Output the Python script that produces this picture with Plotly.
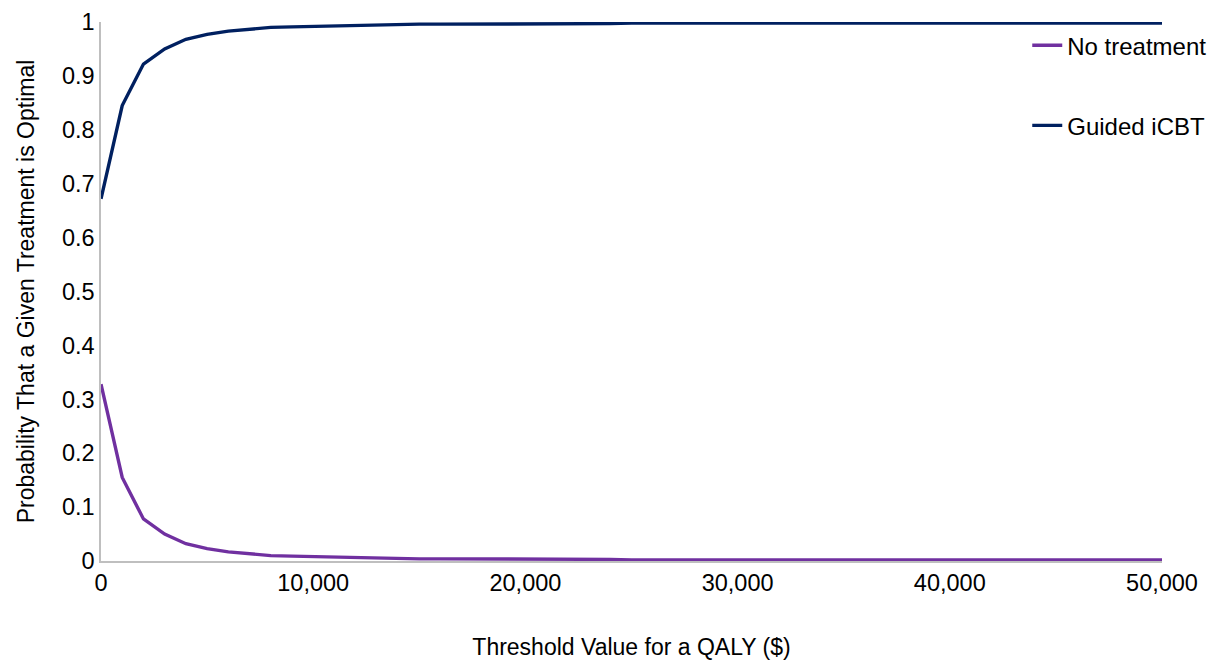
import plotly.graph_objects as go

thresholds = list(range(0, 50001, 1000))
guided_icbt = [0.672, 0.845, 0.922, 0.950, 0.968, 0.977, 0.983, 0.987, 0.990, 0.991,
               0.992, 0.993, 0.994, 0.994, 0.995, 0.996, 0.996, 0.996, 0.997, 0.997,
               0.997, 0.997, 0.997, 0.997, 0.997, 0.998, 0.998, 0.998, 0.998, 0.998,
               0.998, 0.998, 0.998, 0.998, 0.998, 0.998, 0.998, 0.998, 0.998, 0.998,
               0.998, 0.998, 0.998, 0.998, 0.998, 0.998, 0.998, 0.998, 0.998, 0.998,
               0.998]
no_treatment = [0.328, 0.155, 0.078, 0.050, 0.032, 0.023, 0.017, 0.013, 0.010, 0.009,
                0.008, 0.007, 0.006, 0.006, 0.005, 0.004, 0.004, 0.004, 0.003, 0.003,
                0.003, 0.003, 0.003, 0.003, 0.003, 0.002, 0.002, 0.002, 0.002, 0.002,
                0.002, 0.002, 0.002, 0.002, 0.002, 0.002, 0.002, 0.002, 0.002, 0.002,
                0.002, 0.002, 0.002, 0.002, 0.002, 0.002, 0.002, 0.002, 0.002, 0.002,
                0.002]

FONT = "Liberation Sans, Arial, sans-serif"

fig = go.Figure()
fig.add_trace(go.Scatter(x=thresholds, y=no_treatment, mode="lines", name="No treatment",
                         legendgroup="a", line=dict(color="#7030A0", width=3.4)))
fig.add_trace(go.Scatter(x=thresholds, y=guided_icbt, mode="lines", name="Guided iCBT",
                         legendgroup="b", line=dict(color="#002060", width=3.4)))

fig.update_layout(
    width=1207, height=660,
    margin=dict(l=101, r=45, t=22, b=99, autoexpand=False),
    paper_bgcolor="white", plot_bgcolor="white",
    font=dict(family=FONT, size=23, color="#000000"),
    showlegend=True,
    legend=dict(x=0.873, y=0.998, xanchor="left", yanchor="top",
                tracegroupgap=46, font=dict(size=24), bgcolor="rgba(0,0,0,0)"),
    xaxis=dict(range=[0, 50000], tickvals=[0, 10000, 20000, 30000, 40000, 50000],
               tickformat=",", showgrid=False, zeroline=False, showline=True,
               linecolor="#BFBFBF", linewidth=1.5, ticks="", automargin=False,
               tickfont=dict(size=23.5),
               title=dict(text="Threshold Value for a QALY ($)", standoff=44, font=dict(size=23))),
    yaxis=dict(range=[0, 1], dtick=0.1, tick0=0, showgrid=False, zeroline=False,
               showline=True, linecolor="#BFBFBF", linewidth=1.5, ticks="", automargin=False,
               tickfont=dict(size=23.5),
               title=dict(text="Probability That a Given Treatment is Optimal", standoff=21,
                          font=dict(size=23))),
)

fig.write_html("out.html",
               config={"displayModeBar": False},
               post_script="document.body.style.margin='0px';document.body.style.overflow='hidden';")
